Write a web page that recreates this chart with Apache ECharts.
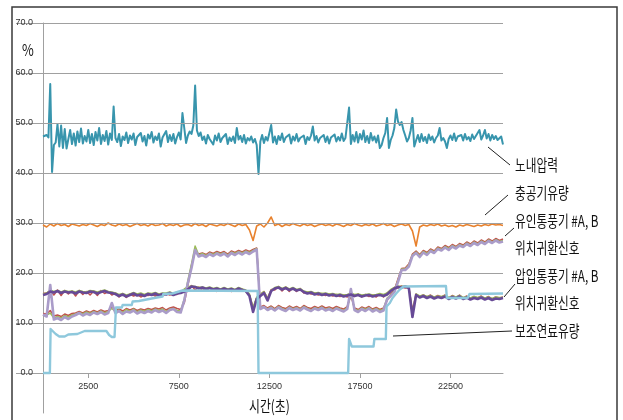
<!DOCTYPE html>
<html>
<head>
<meta charset="utf-8">
<script src="https://cdn.jsdelivr.net/npm/echarts@6/dist/echarts.min.js"></script>
<style>html,body{margin:0;padding:0;background:#fff;}#c{width:623px;height:420px;}</style>
</head>
<body>
<div id="c"></div>
<script>
// time step (seconds) of the sampled series
const fineStep = 100;
const coarseStep = 200;
const xTickValues = [2500, 7500, 12500, 17500, 22500];
const yTickValues = [0, 10, 20, 30, 40, 50, 60, 70];

// 노내압력 (100 s samples)
const pressure = [
47.3,46.9,47.6,47.1,57.8,40.2,45.6,46.1,49.8,45.3,
49.5,45.0,48.8,44.9,46.8,48.6,45.8,47.9,45.5,48.3,
46.2,48.9,45.9,47.4,46.3,48.6,46.0,47.8,45.6,48.2,
46.5,49.0,45.8,47.6,46.4,48.4,45.7,47.9,46.6,53.3,
47.0,46.2,47.8,45.4,47.3,46.6,48.1,46.0,47.5,46.7,
47.9,45.6,47.2,46.8,48.0,46.3,47.4,45.5,47.7,46.9,
48.2,46.1,47.3,46.6,47.9,45.3,47.1,46.8,48.4,46.2,
47.6,46.4,47.8,45.9,47.2,48.1,46.7,52.0,49.0,46.0,
47.5,48.3,47.8,49.5,57.5,48.5,47.4,48.1,46.6,47.3,
45.9,47.6,46.8,47.2,45.7,47.5,46.5,47.9,46.2,47.0,
46.6,47.8,45.8,47.1,46.4,47.3,46.0,49.0,46.7,47.4,
46.2,47.6,45.9,47.0,46.5,47.3,46.1,46.8,45.6,39.8,
46.3,47.6,46.0,47.2,46.5,48.0,49.6,46.1,47.3,45.8,
47.4,46.6,47.9,46.2,47.1,46.8,47.7,45.9,47.3,46.5,
47.8,46.3,47.0,46.7,47.5,45.8,47.2,46.6,47.5,49.3,
46.5,47.4,46.1,47.0,46.7,47.6,46.2,47.3,45.9,47.1,
46.8,47.7,46.3,47.2,46.5,47.9,46.4,47.0,46.6,53.1,
45.8,47.6,46.3,48.2,46.1,47.8,46.7,48.5,46.2,47.4,
46.0,48.0,46.5,47.3,46.1,47.5,45.0,45.6,47.0,48.0,
51.0,45.0,46.6,47.5,49.0,52.7,50.3,49.6,50.2,48.6,
47.5,46.3,47.0,48.5,51.0,45.3,46.5,47.6,46.2,47.8,
46.4,47.2,46.0,47.7,46.6,47.3,46.1,47.0,47.5,49.0,
46.5,47.0,46.3,45.0,46.8,47.5,46.6,47.9,46.4,47.3,
46.9,47.6,46.5,47.8,46.7,47.2,46.4,47.7,46.8,47.4,
47.0,48.6,46.7,47.5,48.6,46.9,47.8,46.5,47.6,46.8,
47.4,46.6,46.9,47.3,45.7
];

// 총공기유량 (200 s samples)
const airFlow = [
29.6,29.2,29.8,29.4,29.9,29.5,29.7,29.3,29.8,29.6,
29.4,29.7,29.5,29.9,29.6,29.3,29.7,29.5,30.0,29.6,
29.4,29.8,29.5,29.7,29.3,29.6,29.9,29.5,29.7,29.4,
29.8,29.5,29.6,29.9,29.4,29.7,29.5,29.8,29.3,29.6,
29.7,29.4,29.9,29.5,29.7,29.3,29.8,29.6,29.4,29.7,
29.5,29.9,29.6,29.3,29.8,29.5,29.7,28.6,26.5,29.4,
29.8,29.2,30.0,31.2,29.5,29.8,29.3,29.7,29.5,29.9,
29.6,29.4,29.8,29.5,29.7,29.3,29.6,29.8,29.5,29.7,
29.4,29.8,29.6,29.3,29.7,29.5,29.9,29.6,29.4,29.7,
29.5,29.8,29.4,29.6,29.9,29.5,29.7,29.3,29.6,29.8,
29.5,29.7,28.4,25.4,29.2,29.6,29.4,29.7,29.5,29.8,
29.4,29.6,29.3,29.5,29.2,29.6,29.4,29.7,29.5,29.3,
29.6,29.4,29.7,29.5,29.8,29.6,29.7,29.5
];

// 유인통풍기 #A, B 위치귀환신호 (200 s samples)
const idFanMain = [
11.7,11.3,17.6,10.7,11.0,10.6,11.2,10.8,11.3,11.6,
12.0,11.5,11.9,11.6,12.1,11.8,12.2,11.7,12.0,14.0,
12.0,12.4,11.8,12.3,12.1,12.5,11.9,12.3,12.0,12.4,
12.1,12.6,12.2,12.5,12.0,12.6,12.8,12.2,12.1,14.5,
18.0,21.0,24.6,23.3,23.6,23.2,23.8,23.4,23.9,23.5,
23.9,23.3,24.0,23.6,24.1,23.7,24.2,23.8,24.3,24.7,
12.8,13.2,12.6,13.0,12.5,13.1,12.7,12.4,13.0,12.6,
12.9,12.5,13.1,12.7,12.4,12.9,12.6,13.0,12.5,12.8,
12.4,12.9,12.6,12.3,12.8,16.8,12.6,12.2,12.8,12.4,
12.9,12.3,12.7,12.2,12.5,14.7,15.4,16.2,18.2,20.6,
20.6,21.3,23.4,24.0,23.2,24.1,23.6,24.4,24.0,24.8,
24.5,25.1,24.6,25.3,24.9,25.5,25.2,25.8,25.4,26.0,
25.6,26.2,25.8,26.4,26.0,26.5,26.1,26.3
];
const idFanRed = [
11.9,11.8,12.5,11.4,11.6,11.3,11.8,11.5,11.9,12.0,
12.3,12.0,12.4,12.1,12.5,12.2,12.6,12.3,12.5,13.2,
12.6,12.8,12.4,12.9,12.6,12.9,12.5,12.8,12.6,12.9,
12.7,13.0,12.8,13.1,12.6,13.0,13.2,12.9,12.7,14.0,
17.5,21.5,24.3,23.8,24.0,23.7,24.2,23.9,24.3,24.0,
24.3,23.8,24.4,24.1,24.5,24.2,24.6,24.3,24.7,25.0,
13.2,13.5,13.0,13.4,12.9,13.5,13.1,12.9,13.4,13.0,
13.3,12.9,13.5,13.1,12.9,13.3,13.0,13.4,13.0,13.2,
12.9,13.3,13.0,12.8,13.3,15.5,13.0,12.7,13.2,12.9,
13.3,12.8,13.1,12.7,13.0,14.5,15.8,16.6,18.8,20.9,
21.0,21.8,23.8,24.4,23.7,24.5,24.1,24.8,24.4,25.2,
24.9,25.5,25.1,25.7,25.3,25.9,25.6,26.2,25.8,26.4,
26.0,26.6,26.2,26.8,26.4,26.9,26.5,26.8
];
const idFanGreen = [
11.5,11.6,12.0,11.0,11.3,11.0,11.5,11.2,11.6,11.8,
12.1,11.8,12.2,11.9,12.3,12.0,12.4,12.0,12.3,12.9,
12.3,12.6,12.1,12.7,12.3,12.8,12.2,12.6,12.3,12.7,
12.4,12.8,12.5,12.8,12.3,12.8,12.9,12.5,12.4,14.8,
18.5,21.8,25.4,23.6,23.9,23.5,24.0,23.7,24.1,23.8,
24.1,23.6,24.2,23.9,24.3,24.0,24.4,24.1,24.5,24.9,
13.0,13.3,12.8,13.2,12.7,13.3,12.9,12.6,13.2,12.8,
13.1,12.7,13.3,12.9,12.6,13.1,12.8,13.2,12.7,13.0,
12.6,13.1,12.8,12.5,13.1,16.0,12.8,12.5,13.0,12.7,
13.1,12.6,12.9,12.5,12.8,15.0,15.6,16.4,18.5,20.8,
20.8,21.6,23.6,24.2,23.5,24.3,23.9,24.6,24.2,25.0,
24.7,25.3,24.9,25.5,25.1,25.7,25.4,26.0,25.6,26.2,
25.8,26.4,26.0,26.6,26.2,26.7,26.3,26.5
];

// 압입통풍기 #A, B 위치귀환신호 (200 s samples)
const fdFanMain = [
15.6,15.8,16.3,16.1,16.4,16.0,16.3,16.1,16.2,15.9,
16.3,16.1,16.0,16.3,16.2,15.9,16.2,16.4,16.1,16.0,
15.8,15.4,15.7,15.3,15.6,15.9,15.5,15.7,15.4,15.8,
15.6,15.9,15.5,15.8,15.7,16.0,15.6,15.9,16.0,16.3,
16.7,17.3,17.2,16.9,17.1,16.8,17.0,16.7,16.9,16.6,
16.9,16.6,16.8,16.5,16.9,16.6,16.4,15.4,12.2,14.8,
15.4,16.0,14.5,16.4,16.9,17.1,16.7,17.0,16.6,16.9,
16.5,16.7,16.2,15.9,16.1,15.7,15.9,15.6,15.8,15.5,
15.7,15.4,15.6,15.3,15.5,15.7,15.4,15.6,15.3,15.5,
15.6,15.3,15.5,15.6,15.4,15.7,16.4,16.9,17.2,17.1,
17.3,17.0,11.2,15.6,15.1,15.4,15.0,15.3,14.9,15.2,
15.0,15.3,14.8,15.2,14.9,15.3,14.8,15.1,14.7,15.0,
14.8,15.1,14.7,15.0,14.6,14.9,14.8,15.0
];
const fdFanRed = [
15.9,16.0,16.5,15.6,16.6,15.5,16.5,15.8,16.4,15.4,
16.5,15.7,16.3,15.6,16.4,15.5,16.5,15.9,16.3,15.6,
16.0,15.2,15.9,15.1,15.8,15.4,15.7,15.2,15.6,15.5,
15.8,15.4,15.7,15.5,15.9,15.6,15.8,15.7,16.2,16.6,
17.0,17.5,16.6,17.2,16.5,17.0,16.4,16.9,16.3,16.8,
16.5,16.8,16.3,16.7,16.4,16.8,16.2,15.6,13.0,15.0,
15.7,16.3,15.0,16.7,16.6,17.3,16.4,17.2,16.3,17.0,
16.3,16.9,16.0,16.2,15.8,16.0,15.6,15.9,15.5,15.8,
15.4,15.7,15.3,15.6,15.2,15.9,15.3,15.8,15.2,15.7,
15.3,15.6,15.2,15.8,15.2,16.0,16.6,17.1,17.0,17.4,
17.0,17.2,12.5,15.8,15.3,15.6,15.2,15.6,15.1,15.5,
15.2,15.6,15.0,15.5,15.1,15.6,15.0,15.4,14.9,15.3,
15.0,15.4,14.9,15.3,14.8,15.2,15.0,15.2
];
const fdFanGreen = [
15.8,16.0,16.6,16.3,16.5,16.2,16.5,16.3,16.4,16.2,
16.5,16.3,16.2,16.5,16.4,16.2,16.4,16.6,16.3,16.2,
16.0,15.7,15.9,15.6,15.8,16.1,15.8,16.0,15.7,16.0,
15.9,16.1,15.8,16.0,16.0,16.2,15.9,16.2,16.3,16.8,
17.2,17.4,17.3,17.1,17.2,17.0,17.2,16.9,17.1,16.8,
17.1,16.8,17.0,16.7,17.1,16.8,16.6,15.8,13.0,15.2,
15.8,16.3,15.0,16.6,17.1,17.3,16.9,17.2,16.8,17.1,
16.7,16.9,16.4,16.2,16.3,16.0,16.1,15.9,16.0,15.8,
15.9,15.7,15.8,15.6,15.7,16.0,15.7,15.8,15.6,15.7,
15.8,15.6,15.7,15.9,15.7,16.0,16.7,17.1,17.4,17.3,
17.4,17.2,12.0,15.8,15.4,15.6,15.3,15.5,15.2,15.4,
15.3,15.5,15.1,15.4,15.2,15.5,15.1,15.3,15.0,15.3,
15.1,15.3,15.0,15.2,14.9,15.2,15.1,15.1
];

// 보조연료유량: [time, value]
const fuelFlow = [
[0,0],[380,0],[420,8.8],[700,7.8],[900,7.3],[1200,7.3],[1400,7.7],[1900,7.8],[2100,8.1],[2300,8.4],
[3500,8.4],[3650,7.6],[3800,7.2],[3950,7.2],[4030,13.1],[4350,13.1],[4400,13.6],[4900,13.6],[4950,14.3],
[5300,14.4],[5350,14.8],[6000,14.9],[6050,15.2],[6600,15.3],[6650,15.8],[7150,15.9],[7200,16.3],[7700,16.5],
[11850,16.4],[11900,0],[16850,0],[16900,6.8],[17050,5.3],[18250,5.3],[18300,6.8],[18930,6.8],[18970,13.3],
[19150,14.0],[19300,15.0],[19500,15.9],[19700,16.7],[19900,17.3],[22250,17.4],[22300,15.0],[23450,15.0],
[23550,15.8],[25400,15.9]
];

const toPairs = (arr, step) => arr.map((v, i) => [i * step, v]);

const KR = 'Noto Sans CJK KR';
function line(data, color, width, z) {
  return { type: 'line', data: data, showSymbol: false, symbol: 'none', z: z,
    lineStyle: { color: color, width: width, join: 'round' }, itemStyle: { color: color },
    animation: false, silent: true };
}
function label(text, x, y, fs, sx) {
  return { type: 'text', x: x, y: y, scaleX: sx, silent: true, z: 100,
    style: { text: text, fontFamily: KR, fontSize: fs, fill: '#111',
      align: 'left', verticalAlign: 'middle', textAlign: 'left', textVerticalAlign: 'middle' } };
}
function seg(x1, y1, x2, y2) {
  return { type: 'line', silent: true, z: 100, shape: { x1: x1, y1: y1, x2: x2, y2: y2 },
    style: { stroke: '#222', lineWidth: 1 } };
}

const chart = echarts.init(document.getElementById('c'), null, { renderer: 'canvas' });
chart.setOption({
  animation: false,
  backgroundColor: '#fff',
  grid: { left: 43, right: 120, top: 23, bottom: 7 },
  xAxis: {
    type: 'value', min: 0, max: 25400, position: 'bottom', offset: -40,
    axisLine: { onZero: false, lineStyle: { color: '#a0a0a0', width: 1 } },
    axisTick: { show: true, length: 5, customValues: xTickValues, lineStyle: { color: '#a0a0a0' } },
    axisLabel: { customValues: xTickValues, margin: 9, fontSize: 9, fontFamily: 'Liberation Sans', color: '#333',
      formatter: v => String(v) },
    splitLine: { show: false }
  },
  yAxis: {
    type: 'value', min: -8, max: 70,
    axisLine: { show: true, lineStyle: { color: '#a0a0a0', width: 1 } },
    axisTick: { show: true, length: 27, customValues: yTickValues, lineStyle: { color: '#a0a0a0' } },
    axisLabel: { customValues: yTickValues, margin: 10, fontSize: 9, fontFamily: 'Liberation Sans', color: '#333',
      formatter: v => v.toFixed(1) },
    splitLine: { show: false }
  },
  series: [
    { type: 'line', data: [], z: 1, silent: true, animation: false,
      markLine: { silent: true, symbol: ['none', 'none'], animation: false, label: { show: false },
        lineStyle: { color: '#a0a0a0', width: 1, type: 'solid' },
        data: yTickValues.map(v => ({ yAxis: v })) } },
    line(toPairs(airFlow, coarseStep), '#e8822e', 1.6, 2),
    line(toPairs(pressure, fineStep), '#3895ad', 2, 3),
    line(toPairs(idFanRed, coarseStep), '#c0504d', 1.5, 4),
    line(toPairs(idFanGreen, coarseStep), '#9bbb59', 1.5, 4),
    line(toPairs(idFanMain, coarseStep), '#aa9cc9', 2.6, 5),
    line(toPairs(fdFanRed, coarseStep), '#c0504d', 1.5, 4),
    line(toPairs(fdFanGreen, coarseStep), '#9bbb59', 1.5, 4),
    line(toPairs(fdFanMain, coarseStep), '#674a96', 2.6, 5),
    line(fuelFlow, '#8ec8dc', 2.4, 6)
  ],
  graphic: [
    { type: 'rect', silent: true, z: 100, shape: { x: 12, y: 7, width: 605, height: 425 },
      style: { fill: 'none', stroke: '#3a3a3a', lineWidth: 1.5 } },
    label('%', 22, 50, 16, 0.8),
    label('시간(초)', 249, 406, 16, 0.74),
    label('노내압력', 515, 165, 16, 0.73),
    label('충공기유량', 515, 193, 16, 0.73),
    label('유인통풍기 #A, B', 515, 221, 16, 0.73),
    label('위치귀환신호', 515, 248, 16, 0.73),
    label('압입통풍기 #A, B', 515, 276, 16, 0.73),
    label('위치귀환신호', 515, 303, 16, 0.73),
    label('보조연료유량', 515, 331, 16, 0.73),
    seg(488, 147, 510, 165),
    seg(485, 215, 508, 195),
    seg(505, 236, 514, 228),
    seg(504, 297, 515, 284),
    seg(393, 336, 512, 331)
  ]
});
</script>
</body>
</html>
